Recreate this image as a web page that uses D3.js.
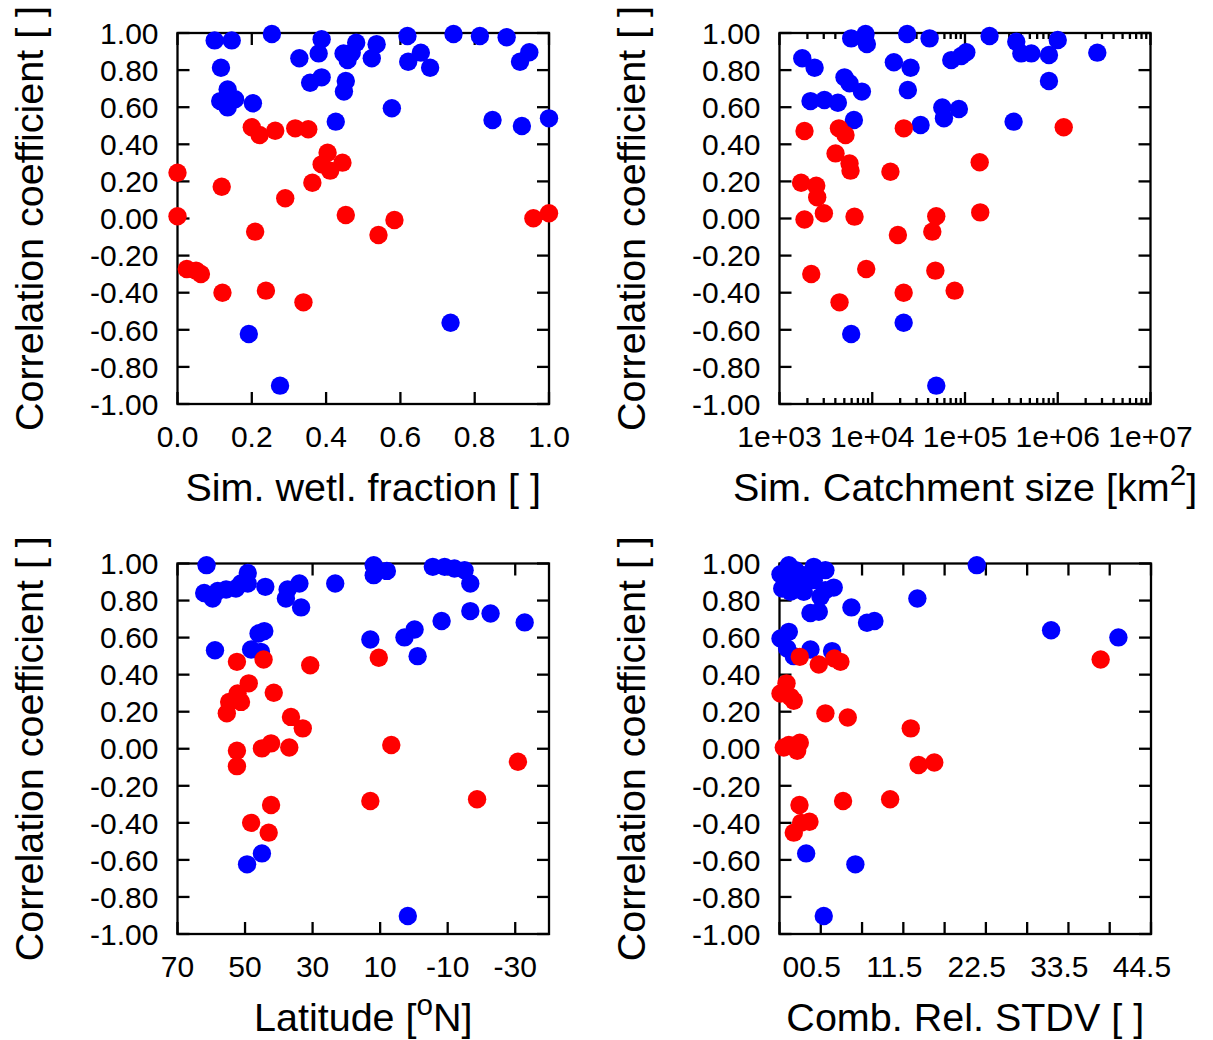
<!DOCTYPE html>
<html><head><meta charset="utf-8">
<script src="https://cdn.jsdelivr.net/npm/d3@7"></script>
<style>
body{margin:0;background:#fff}
svg{display:block}
text{font-family:"Liberation Sans",Arial,Helvetica,sans-serif;fill:#000}
</style>
</head><body>
<svg id="chart" width="1213" height="1040"></svg>
<script>
// ---------- data ----------
const yTickValues = [-1, -0.8, -0.6, -0.4, -0.2, 0, 0.2, 0.4, 0.6, 0.8, 1];
const yTitle = "Correlation coefficient [ ]";

const wetlTicks = [0, 0.2, 0.4, 0.6, 0.8, 1.0];
const catchTicks = [1e3, 1e4, 1e5, 1e6, 1e7];
const latTicks = [70, 50, 30, 10, -10, -30];
const stdvTicks = [0, 5, 10, 15, 20, 25, 30, 35, 40, 45];
const stdvLabels = ["00.5", "11.5", "22.5", "33.5", "44.5"];
const stdvLabelPos = [3.9, 13.9, 23.9, 33.9, 43.9];

// Panel 1: simulated wetland fraction vs correlation
const wetlBlue = [[0.10,0.96],[0.146,0.96],[0.254,0.995],[0.388,0.966],[0.38,0.89],[0.328,0.864],[0.447,0.89],[0.481,0.948],[0.469,0.894],[0.458,0.854],[0.536,0.94],[0.523,0.864],[0.619,0.984],[0.621,0.845],[0.655,0.894],[0.68,0.813],[0.743,0.995],[0.814,0.984],[0.886,0.977],[0.922,0.845],[0.947,0.896],[0.117,0.813],[0.357,0.732],[0.388,0.761],[0.453,0.741],[0.448,0.684],[0.115,0.633],[0.135,0.696],[0.155,0.643],[0.135,0.599],[0.203,0.621],[0.577,0.594],[0.426,0.522],[0.848,0.531],[0.927,0.499],[1.0,0.54],[0.192,-0.623],[0.276,-0.901],[0.735,-0.562]];
const wetlRed = [[0.2,0.492],[0.221,0.45],[0.263,0.473],[0.317,0.486],[0.352,0.481],[0.404,0.355],[0.388,0.292],[0.411,0.258],[0.444,0.301],[0.363,0.193],[0.0,0.247],[0.119,0.171],[0.29,0.109],[0.0,0.012],[0.453,0.019],[0.584,-0.008],[0.541,-0.089],[0.209,-0.071],[0.958,0.001],[1.0,0.028],[0.025,-0.272],[0.05,-0.281],[0.063,-0.299],[0.121,-0.4],[0.238,-0.389],[0.339,-0.452]];

// Panel 2: simulated catchment size (km2)
const catchBlue = [[1760,0.864],[2390,0.813],[5930,0.971],[8470,0.995],[8750,0.941],[23800,0.995],[41500,0.971],[184000,0.984],[357000,0.953],[405000,0.89],[519000,0.89],[804000,0.881],[1000000,0.962],[2670000,0.894],[804000,0.741],[17100,0.842],[25900,0.813],[71100,0.854],[91200,0.876],[103300,0.896],[5020,0.761],[5690,0.729],[7730,0.684],[24200,0.693],[2160,0.633],[3050,0.639],[4260,0.624],[6340,0.531],[56900,0.599],[85900,0.59],[59300,0.54],[33200,0.504],[334000,0.522],[5930,-0.623],[21800,-0.562],[49000,-0.901]];
const catchRed = [[1860,0.472],[4370,0.486],[5150,0.45],[21900,0.486],[1160000,0.492],[4020,0.351],[5690,0.297],[5830,0.258],[15700,0.252],[144000,0.303],[1710,0.193],[2490,0.177],[2550,0.114],[3010,0.028],[1860,-0.005],[6440,0.01],[49000,0.012],[146000,0.033],[18900,-0.089],[44400,-0.071],[2200,-0.299],[8610,-0.272],[47900,-0.281],[21800,-0.4],[77300,-0.389],[4440,-0.452]];

// Panel 3: latitude (deg N)
const latBlue = [[61.4,0.991],[62.1,0.841],[59.6,0.811],[58.1,0.852],[55.6,0.86],[52.7,0.865],[51.2,0.892],[49.2,0.892],[49.2,0.949],[44.0,0.874],[37.9,0.811],[37.4,0.86],[33.9,0.892],[33.4,0.763],[23.3,0.892],[11.9,0.991],[11.9,0.937],[8.0,0.96],[-5.6,0.982],[-9.1,0.982],[-12.0,0.973],[-15.0,0.964],[-16.7,0.892],[-16.7,0.743],[-22.7,0.73],[-32.8,0.682],[-8.2,0.69],[-0.2,0.644],[2.8,0.601],[12.9,0.59],[-1.1,0.5],[58.9,0.532],[46.0,0.622],[44.3,0.635],[48.2,0.536],[45.3,0.523],[49.4,-0.624],[45.0,-0.565],[1.8,-0.903]];
const latRed = [[52.4,0.469],[44.5,0.482],[30.7,0.451],[10.4,0.491],[48.9,0.353],[52.2,0.298],[54.7,0.253],[51.2,0.253],[55.4,0.191],[41.5,0.302],[36.4,0.172],[32.9,0.11],[52.4,-0.011],[52.4,-0.094],[45.0,0.002],[42.3,0.029],[36.9,0.007],[6.7,0.02],[-30.8,-0.07],[12.9,-0.282],[-18.7,-0.273],[42.3,-0.304],[48.2,-0.4],[43.0,-0.453]];

// Panel 4: combined relative STDV
const stdvBlue = [[1.13,0.991],[4.15,0.982],[5.56,0.964],[0.12,0.942],[1.94,0.964],[2.94,0.937],[0.93,0.892],[2.54,0.901],[4.15,0.91],[1.33,0.847],[2.94,0.847],[4.96,0.82],[6.57,0.87],[5.56,0.856],[0.33,0.865],[23.9,0.991],[16.7,0.811],[3.75,0.733],[4.76,0.739],[8.71,0.763],[10.6,0.68],[11.5,0.69],[32.9,0.64],[41.05,0.601],[1.13,0.631],[0.12,0.595],[0.93,0.541],[3.75,0.536],[6.37,0.527],[1.73,0.5],[3.23,-0.565],[9.19,-0.624],[5.36,-0.903]];
const stdvRed = [[2.46,0.496],[4.76,0.455],[6.65,0.487],[7.38,0.469],[38.9,0.482],[0.85,0.353],[0.12,0.298],[1.33,0.28],[1.73,0.259],[5.56,0.191],[8.27,0.169],[15.9,0.11],[0.52,0.007],[1.13,0.02],[2.14,-0.011],[2.46,0.032],[16.85,-0.088],[18.75,-0.074],[2.42,-0.304],[7.7,-0.282],[13.4,-0.273],[2.62,-0.4],[3.63,-0.394],[1.73,-0.453]];

// ---------- drawing ----------
const svg = d3.select("#chart");
const TICK_FONT = 30, TITLE_FONT = 39.5;
const BLUE = "#0000ff", RED = "#ff0000";
const fmtY = v => d3.format(".2f")(v).replace("\u2212", "-");

const panels = [
  {l:177.5, r:549, t:33, b:404, x: d3.scaleLinear().domain([0,1]),
   ticks: wetlTicks, labels: wetlTicks.map(d3.format(".1f")), labelPos: wetlTicks,
   title: [{t:"Sim. wetl. fraction [ ]"}], blue: wetlBlue, red: wetlRed, yTitleX: 43},
  {l:779.5, r:1150.5, t:33, b:404, x: d3.scaleLog().domain([1e3,1e7]), log:true,
   ticks: catchTicks, labels: catchTicks.map(v => "1e+0" + Math.round(Math.log10(v))), labelPos: catchTicks,
   title: [{t:"Sim. Catchment size [km"},{t:"2",sup:true},{t:"]"}], blue: catchBlue, red: catchRed, yTitleX: 645},
  {l:177.5, r:549, t:563.5, b:934, x: d3.scaleLinear().domain([70,-40]),
   ticks: latTicks, labels: latTicks.map(String), labelPos: latTicks,
   title: [{t:"Latitude ["},{t:"o",sup:true},{t:"N]"}], blue: latBlue, red: latRed, yTitleX: 43},
  {l:779.5, r:1151, t:563.5, b:934, x: d3.scaleLinear().domain([0,45]),
   ticks: stdvTicks, labels: stdvLabels, labelPos: stdvLabelPos,
   title: [{t:"Comb. Rel. STDV [ ]"}], blue: stdvBlue, red: stdvRed, yTitleX: 645}
];

panels.forEach(p => {
  p.x.range([p.l, p.r]);
  const y = d3.scaleLinear().domain([-1,1]).range([p.b, p.t]);
  const g = svg.append("g");

  g.append("rect").attr("x",p.l).attr("y",p.t).attr("width",p.r-p.l).attr("height",p.b-p.t)
    .attr("fill","none").attr("stroke","#000").attr("stroke-width",2.3);

  const tk = g.append("g").attr("stroke","#000").attr("stroke-width",2.3);
  yTickValues.forEach(v => {
    const yy = y(v);
    tk.append("line").attr("x1",p.l).attr("x2",p.l+12).attr("y1",yy).attr("y2",yy);
    tk.append("line").attr("x1",p.r).attr("x2",p.r-12).attr("y1",yy).attr("y2",yy);
  });
  let xt = [];
  if (p.log) {
    for (let e = 3; e < 7; e++) for (let m = 1; m <= 9; m++) xt.push({v: m*Math.pow(10,e), len: m===1?12:6});
    xt.push({v:1e7, len:12});
  } else {
    xt = p.ticks.map(v => ({v, len:12}));
  }
  xt.forEach(d => {
    const xx = p.x(d.v);
    tk.append("line").attr("x1",xx).attr("x2",xx).attr("y1",p.b).attr("y2",p.b-d.len);
    tk.append("line").attr("x1",xx).attr("x2",xx).attr("y1",p.t).attr("y2",p.t+d.len);
  });

  yTickValues.forEach(v => {
    g.append("text").attr("x",p.l-19).attr("y",y(v)+10.7).attr("text-anchor","end")
      .attr("font-size",TICK_FONT).text(fmtY(v));
  });
  p.labels.forEach((lab,i) => {
    g.append("text").attr("x",p.x(p.labelPos[i])).attr("y",p.b+43).attr("text-anchor","middle")
      .attr("font-size",TICK_FONT).text(lab);
  });
  const xtEl = g.append("text").attr("x",(p.l+p.r)/2).attr("y",p.b+97).attr("text-anchor","middle")
    .attr("font-size",TITLE_FONT);
  let prevSup = false;
  p.title.forEach(s => {
    const ts = xtEl.append("tspan").text(s.t);
    if (s.sup) { ts.attr("font-size",TITLE_FONT*0.75).attr("dy",-16); prevSup = true; }
    else { if (prevSup) ts.attr("dy",16); prevSup = false; }
  });
  g.append("text").attr("transform",`translate(${p.yTitleX},${(p.t+p.b)/2}) rotate(-90)`)
    .attr("text-anchor","middle").attr("font-size",TITLE_FONT).text(yTitle);

  g.append("g").selectAll("circle").data(p.blue).join("circle")
    .attr("cx",d=>p.x(d[0])).attr("cy",d=>y(d[1])).attr("r",9.2).attr("fill",BLUE);
  g.append("g").selectAll("circle").data(p.red).join("circle")
    .attr("cx",d=>p.x(d[0])).attr("cy",d=>y(d[1])).attr("r",9.2).attr("fill",RED);
});
</script>
</body></html>
